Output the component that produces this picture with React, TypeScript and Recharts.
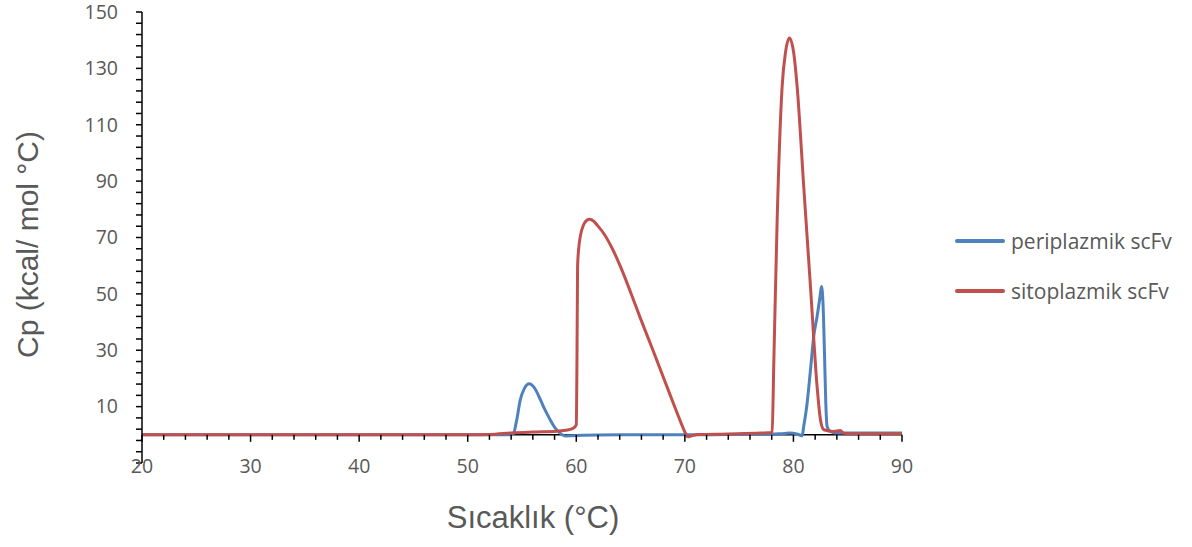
import React from "react";
import { LineChart, Line, XAxis, YAxis, ReferenceLine, Legend } from "recharts";

// DSC thermograms
const periplazmikT = [
  20, 30, 40, 50, 53.8, 54.2, 54.5, 54.84, 55.2, 55.67, 56.1, 56.68, 57.1, 57.6, 58.1, 58.53, 59.0, 59.6, 62, 66, 70, 74, 78,
  79.2, 79.7, 80.3, 80.8, 80.95, 81.26, 81.57, 81.87, 82.18, 82.45, 82.58, 82.72, 82.86, 82.98, 83.1, 83.4, 84, 90,
];
const periplazmikCp = [
  0, 0, 0, 0, 0, 0.4, 5, 12.4, 16.3, 18.1, 16.9, 12.6, 9.0, 5.3, 2.2, 0.5, -0.4, -0.3, -0.1, 0, 0, 0.1, 0.2,
  0.5, 0.6, 0.3, -0.3, 3, 11.2, 23, 35, 42, 49, 52.6, 47, 29, 11.4, 3, 1.2, 0.6, 0.6,
];

const sitoplazmikT = [
  20, 30, 40, 50, 52, 54.2, 56, 58.2, 59.2, 59.7, 60.0, 60.06, 60.12, 60.22, 60.37, 60.67, 61.0, 61.23, 61.6, 61.9, 62.5,
  63.3, 64.1, 65.0, 65.9, 67.0, 68.0, 69.0, 69.6, 70.0, 70.25, 70.6, 71.2, 74, 77, 77.95, 78.04, 78.2, 78.5, 78.96,
  79.26, 79.63, 80.03, 80.34, 80.95, 81.57, 82.18, 82.49, 82.8, 83.7, 84.33, 84.6, 85.5, 90,
];
const sitoplazmikCp = [
  0, 0, 0, 0, 0.1, 0.7, 1.0, 1.3, 1.7, 2.3, 3.5, 25, 59.7, 66, 70.4, 74.5, 76.2, 76.5, 75.8, 74.5, 71.6,
  66.2, 59.4, 50.6, 41.4, 30.6, 20.6, 10.6, 4.7, 1.0, -0.7, -0.4, 0.1, 0.3, 0.6, 0.8, 0.9, 27, 76, 123.6,
  135.4, 140.8, 135.4, 123.6, 88, 52.6, 17.1, 5.3, 1.8, 1.2, 1.5, 0.6, 0.4, 0.4,
];

const xTickLabels = [20, 30, 40, 50, 60, 70, 80, 90];
const yTickLabels = [10, 30, 50, 70, 90, 110, 130, 150];
const xMinorTicks = Array.from({ length: 36 }, (_, i) => 20 + i * 2);
const yMinorTicks = Array.from({ length: 41 }, (_, i) => -10 + i * 4);

const periplazmik = periplazmikT.map((t, i) => ({ t, cp: periplazmikCp[i] }));
const sitoplazmik = sitoplazmikT.map((t, i) => ({ t, cp: sitoplazmikCp[i] }));

const W = 1192;
const H = 547;
const MARGIN = { top: 12, right: 290, bottom: 44, left: 82 };
const Y_AXIS_W = 60;
const X_AXIS_H = 40;
const Y_MIN = -10;
const Y_MAX = 150;
const PLOT_H = H - MARGIN.top - MARGIN.bottom - X_AXIS_H;
const PLOT_BOTTOM = MARGIN.top + PLOT_H;
// pixel row of Cp = 0, where the x axis crosses
const Y0 = MARGIN.top + ((Y_MAX - 0) / (Y_MAX - Y_MIN)) * PLOT_H;

const TICK_FONT = "'Open Sans', sans-serif";
const TITLE_FONT = "'Liberation Sans', Arial, sans-serif";
const GREY = "#595959";

const YTick = (props: any) => {
  const { x, y, payload } = props;
  if (!yTickLabels.includes(payload.value)) return <g />;
  return (
    <text x={x} y={y} dy={6.8} textAnchor="end" fill={GREY} fontSize={19.5} fontFamily={TICK_FONT}>
      {payload.value}
    </text>
  );
};

const XTick = (props: any) => {
  const { x, payload } = props;
  const major = xTickLabels.includes(payload.value);
  return (
    <g>
      <line x1={x} x2={x} y1={Y0} y2={Y0 + (major ? 7 : 5)} stroke="#000" strokeWidth={1.5} />
      {major && (
        <text x={x} y={PLOT_BOTTOM + 10} textAnchor="middle" fill={GREY} fontSize={19.5} fontFamily={TICK_FONT}>
          {payload.value}
        </text>
      )}
    </g>
  );
};

const LegendBox = (props: any) => {
  const { payload } = props;
  return (
    <div style={{ display: "flex", flexDirection: "column", gap: 20 }}>
      {(payload || []).map((entry: any) => (
        <div key={entry.value} style={{ display: "flex", alignItems: "center", height: 30 }}>
          <span style={{ display: "inline-block", width: 50, height: 4, borderRadius: 2, background: entry.color }} />
          <span style={{ marginLeft: 6, color: GREY, fontSize: 21, fontFamily: TICK_FONT, whiteSpace: "nowrap" }}>
            {entry.value}
          </span>
        </div>
      ))}
    </div>
  );
};

export default function App() {
  return (
    <div style={{ position: "absolute", left: 0, top: 0, width: W, height: H, background: "#fff" }}>
      <LineChart width={W} height={H} margin={MARGIN}>
        <XAxis
          dataKey="t"
          type="number"
          domain={[20, 90]}
          ticks={xMinorTicks}
          interval={0}
          axisLine={false}
          tickLine={false}
          height={X_AXIS_H}
          tick={<XTick />}
          allowDataOverflow
          label={{
            content: ({ viewBox }: any) => (
              <text
                x={viewBox.x + viewBox.width / 2 + 11}
                y={viewBox.y + 65}
                textAnchor="middle"
                fill={GREY}
                fontSize={31}
                fontFamily={TITLE_FONT}
              >
                Sıcaklık (°C)
              </text>
            ),
          }}
        />
        <YAxis
          type="number"
          domain={[Y_MIN, Y_MAX]}
          ticks={yMinorTicks}
          interval={0}
          width={Y_AXIS_W}
          axisLine={{ stroke: "#000", strokeWidth: 1.5 }}
          tickLine={{ stroke: "#000", strokeWidth: 1.5 }}
          tickSize={6}
          tickMargin={18}
          tick={<YTick />}
          allowDataOverflow
          label={{
            content: ({ viewBox }: any) => {
              const cx = viewBox.x - 55;
              const cy = viewBox.y + viewBox.height / 2 + 7;
              return (
                <text
                  x={cx}
                  y={cy}
                  transform={`rotate(-90 ${cx} ${cy})`}
                  textAnchor="middle"
                  dominantBaseline="central"
                  fill={GREY}
                  fontSize={30}
                  fontFamily={TITLE_FONT}
                >
                  Cp (kcal/ mol °C)
                </text>
              );
            },
          }}
        />
        <ReferenceLine y={0} stroke="#000" strokeWidth={1.5} ifOverflow="extendDomain" />
        <Line
          data={periplazmik}
          dataKey="cp"
          name="periplazmik scFv"
          type="monotone"
          stroke="#4F81BD"
          strokeWidth={3}
          dot={false}
          activeDot={false}
          isAnimationActive={false}
        />
        <Line
          data={sitoplazmik}
          dataKey="cp"
          name="sitoplazmik scFv"
          type="monotone"
          stroke="#C0504D"
          strokeWidth={3}
          dot={false}
          activeDot={false}
          isAnimationActive={false}
        />
        <Legend
          layout="horizontal"
          align="center"
          verticalAlign="middle"
          content={<LegendBox />}
          wrapperStyle={{ left: 955, top: 226, width: 230, height: 80 }}
        />
      </LineChart>
    </div>
  );
}
